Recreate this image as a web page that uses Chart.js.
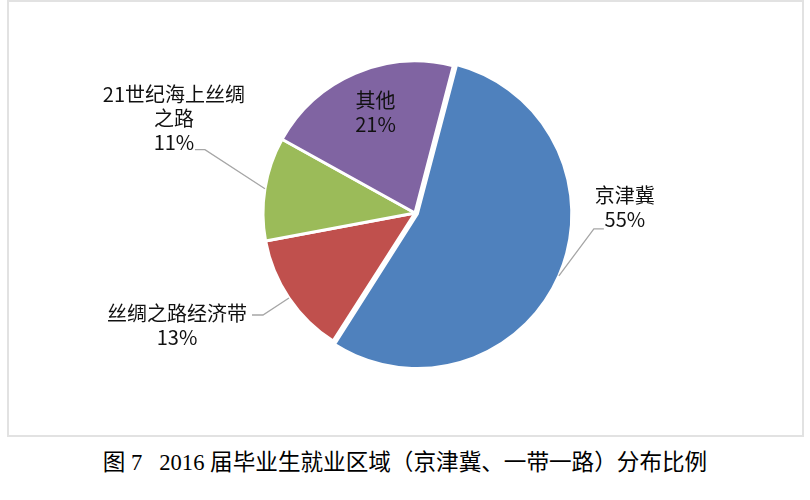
<!DOCTYPE html>
<html>
<head>
<meta charset="utf-8">
<script src="https://cdn.jsdelivr.net/npm/chart.js@4.4.1/dist/chart.umd.min.js"></script>
<style>
  html, body { margin: 0; padding: 0; background: #fff; }
  body { width: 810px; height: 500px; position: relative; overflow: hidden; }
  #frame {
    position: absolute; left: 7px; top: 0; width: 797px; height: 437px;
    border: 2px solid #e2e2e2; box-sizing: border-box;
  }
  #chart { position: absolute; left: 0; top: 0; }
  #caption {
    position: absolute; left: 0; top: 444px; width: 810px; text-align: center;
    font-family: "Liberation Serif", "Noto Sans CJK SC", serif;
    font-size: 22.6px; color: #000; white-space: pre;
  }
</style>
</head>
<body>
<div id="frame"></div>
<canvas id="chart" width="810" height="440"></canvas>
<div id="caption">图 7   2016 届毕业生就业区域（京津冀、一带一路）分布比例</div>
<script>
// data
const categories = ["京津冀", "丝绸之路经济带", "21世纪海上丝绸之路", "其他"];
const shares = [55, 13, 11, 21];
const labelLines = [["京津冀"], ["丝绸之路经济带"], ["21世纪海上丝绸", "之路"], ["其他"]];
const sliceColors = ["#4F81BD", "#C0504D", "#9BBB59", "#8064A2"];

// label placement, relative to the point where the slice bisector meets the rim
const LABEL_LAYOUT = [
  { inside: false, elbow: [35, -47], tail: 10, text: [21, -33] },
  { inside: false, elbow: [-26, 17], tail: -11, text: [-75, -2] },
  { inside: false, elbow: [-60, -39], tail: -10, text: [-21, -55] },
  { inside: true, shift: [3, -1] },
];
const LINE_H = 24;
const LABEL_FONT = '20px "Noto Sans CJK SC", sans-serif';

function pctText(v) {
  const total = shares.reduce((a, b) => a + b, 0);
  return `${Math.round((v / total) * 100)}%`;
}

const pieLabels = {
  id: "pieLabels",
  afterDatasetsDraw(chart) {
    const { ctx } = chart;
    const meta = chart.getDatasetMeta(0);
    ctx.save();
    ctx.font = LABEL_FONT;
    ctx.fillStyle = "#111";
    ctx.textAlign = "center";
    ctx.textBaseline = "middle";
    meta.data.forEach((arc, i) => {
      const p = arc.getProps(["x", "y", "startAngle", "endAngle", "outerRadius"], true);
      const mid = (p.startAngle + p.endAngle) / 2;
      const shift = (arc.options.offset || 0) / 2;
      const cx = p.x + Math.cos(mid) * shift;
      const cy = p.y + Math.sin(mid) * shift;
      const lines = [...labelLines[i], pctText(shares[i])];
      const lay = LABEL_LAYOUT[i];

      if (lay.inside) {
        const r = p.outerRadius * 0.71;
        const tx = cx + Math.cos(mid) * r + lay.shift[0];
        const ty = cy + Math.sin(mid) * r + lay.shift[1] - ((lines.length - 1) * LINE_H) / 2;
        lines.forEach((t, k) => ctx.fillText(t, tx, ty + k * LINE_H));
        return;
      }

      const ax = cx + Math.cos(mid) * p.outerRadius;
      const ay = cy + Math.sin(mid) * p.outerRadius;
      const ex = ax + lay.elbow[0];
      const ey = ay + lay.elbow[1];
      const tx = ex + lay.tail;

      ctx.beginPath();
      ctx.strokeStyle = "#a6a6a6";
      ctx.lineWidth = 1.3;
      ctx.moveTo(ax, ay);
      ctx.lineTo(ex, ey);
      ctx.lineTo(tx, ey);
      ctx.stroke();

      const lx = tx + lay.text[0];
      const ly = ey + lay.text[1];
      lines.forEach((t, k) => ctx.fillText(t, lx, ly + k * LINE_H));
    });
    ctx.restore();
  },
};

new Chart(document.getElementById("chart"), {
  type: "pie",
  data: {
    labels: categories,
    datasets: [
      {
        data: shares,
        backgroundColor: sliceColors,
        borderColor: "#ffffff",
        borderWidth: 3,
        offset: [10, 0, 0, 0],
        hoverOffset: 0,
      },
    ],
  },
  options: {
    responsive: false,
    animation: false,
    events: [],
    rotation: 14.6,
    radius: 152,
    layout: { padding: { left: 20, right: 0, top: 0, bottom: 14 } },
    plugins: {
      legend: { display: false },
      tooltip: { enabled: false },
      title: { display: false },
    },
  },
  plugins: [pieLabels],
});
</script>
</body>
</html>
